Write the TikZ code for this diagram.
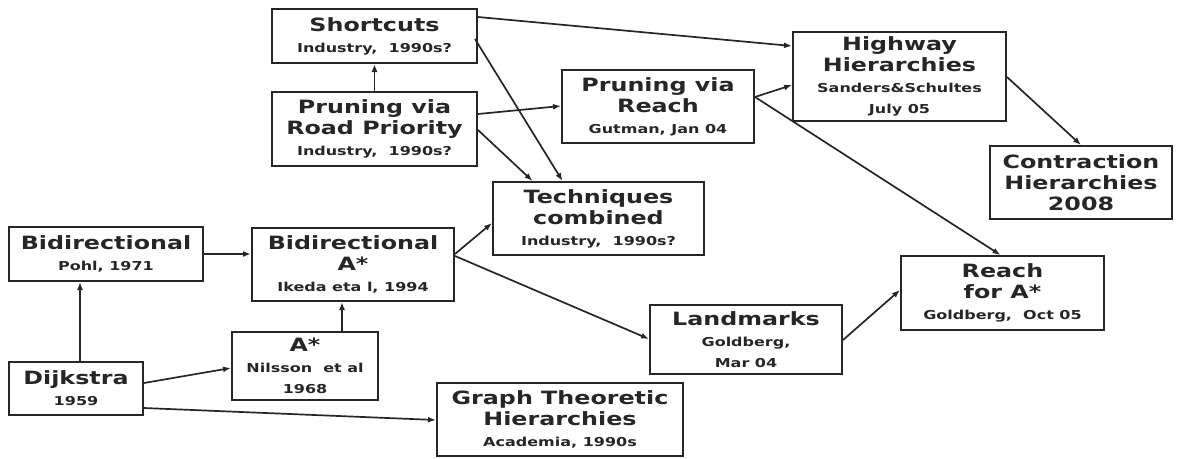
\documentclass[tikz,border=0pt]{standalone}
\usepackage{fontspec}
\usepackage{tikz}
\usetikzlibrary{calc,arrows.meta}
\newfontfamily\boxfont{DejaVu Sans Bold}[FakeStretch=1.3]
\newcommand{\info}{\fontsize{12.3}{14}\selectfont}
\tikzstyle{box}=[draw=black!85,line width=2pt,rectangle,inner sep=0pt,align=center,text=black!85,font={\boxfont\fontsize{18.3}{21}\selectfont}]
\tikzstyle{link}=[line width=1.7pt,draw=black!85,-{Latex[length=8pt,width=6pt]}]

\begin{document}
\begin{tikzpicture}[x=1pt,y=1pt]
\useasboundingbox (0,0) rectangle (1178,-458);
\node[box, minimum width=205, minimum height=54] at (374.5,-36) (Shortcuts) {Shortcuts\\\info Industry,\ \ 1990s?};
\node[box, minimum width=205, minimum height=74] at (374.5,-129) (RoadPriority) {Pruning via\\Road Priority\\\info Industry,\ \ 1990s?};
\node[box, minimum width=192, minimum height=73] at (658,-106.5) (Reach) {Pruning via\\Reach\\\info Gutman, Jan 04};
\node[box, minimum width=213, minimum height=89] at (899.5,-76.5) (Highway) {Highway\\Hierarchies\\\info Sanders\&Schultes\\\info July 05};
\node[box, minimum width=182, minimum height=73] at (1081,-182.5) (Contraction) {Contraction\\Hierarchies\\2008};
\node[box, minimum width=211, minimum height=73] at (598.5,-218.5) (Techniques) {Techniques\\combined\\\info Industry,\ \ 1990s?};
\node[box, minimum width=194, minimum height=54] at (106,-254) (Bidir) {Bidirectional\\\info Pohl, 1971};
\node[box, minimum width=202, minimum height=73] at (353,-264.5) (BidirA) {Bidirectional\\A*\\\info Ikeda eta l, 1994};
\node[box, minimum width=146, minimum height=68] at (305,-366) (Astar) {A*\\\info Nilsson\ \ et al\\\info 1968};
\node[box, minimum width=134, minimum height=53] at (76,-388.5) (Dijkstra) {Dijkstra\\\info 1959};
\node[box, minimum width=246, minimum height=73] at (560,-419.5) (Graph) {Graph Theoretic\\Hierarchies\\\info Academia, 1990s};
\node[box, minimum width=192, minimum height=69] at (746,-339.5) (Landmarks) {Landmarks\\\info Goldberg,\\\info Mar 04};
\node[box, minimum width=203, minimum height=74] at (1002.5,-293) (ReachA) {Reach\\for A*\\\info Goldberg,\ \ Oct 05};
\draw[link] ($(Shortcuts.north east)+(0,-9)$) -- ($(Highway.north west)+(0,-15)$);
\draw[link] ($(Shortcuts.north east)+(-3,-31)$) -- ($(Techniques.north)+(-36,0)$);
\draw[link] (RoadPriority.north) -- (Shortcuts.south);
\draw[link] ($(RoadPriority.north east)+(0,-23)$) -- ($(Reach.north west)+(0,-37)$);
\draw[link] ($(RoadPriority.north east)+(0,-39)$) -- ($(Techniques.north)+(-66,0)$);
\draw[link] ($(Reach.north east)+(0,-28)$) -- ($(Highway.north west)+(0,-54)$);
\draw[link] ($(Reach.north east)+(0,-28)$) -- ($(ReachA.north)+(-2,0)$);
\draw[link] ($(Highway.north east)+(0,-46)$) -- (Contraction.north);
\draw[link] (Bidir.east) -- (Bidir.east -| BidirA.west);
\draw[link] ($(Dijkstra.north)+(4,0)$) coordinate (D1) -- (D1 |- Bidir.south);
\draw[link] ($(Dijkstra.north east)+(0,-22)$) -- ($(Astar.north west)+(0,-37)$);
\draw[link] ($(Dijkstra.south east)+(0,8)$) -- ($(Graph.north west)+(0,-38)$);
\draw[link] ($(Astar.north)+(37,0)$) coordinate (A1) -- (A1 |- BidirA.south);
\draw[link] ($(BidirA.north east)+(0,-27)$) -- ($(Techniques.south west)+(0,33)$);
\draw[link] ($(BidirA.north east)+(0,-29)$) -- ($(Landmarks.north west)+(0,-35)$);
\draw[link] ($(Landmarks.north east)+(0,-36)$) -- ($(ReachA.north west)+(0,-35)$);
\end{tikzpicture}
\end{document}
